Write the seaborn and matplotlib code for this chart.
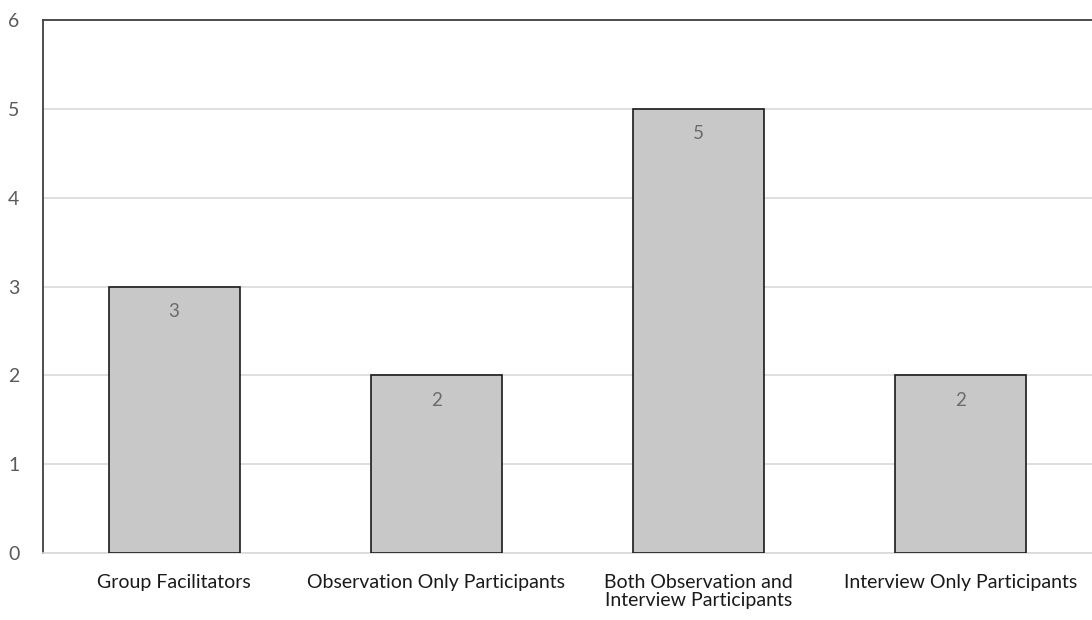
import seaborn as sns
import matplotlib.pyplot as plt
import pandas as pd

# datos
categorias = ["Group Facilitators", "Observation Only Participants",
              "Both Observation and\nInterview Participants", "Interview Only Participants"]
valores = [3, 2, 5, 2]

df = pd.DataFrame({"cat": categorias, "val": valores})

sns.set_style("white")
plt.rcParams["font.family"] = ["Lato", "DejaVu Sans"]

fig = plt.figure(figsize=(10.92, 6.2), dpi=100)
ax = fig.add_axes([43 / 1092, 1 - 553 / 620, 1 - 43 / 1092, (553 - 20) / 620])

sns.barplot(data=df, x="cat", y="val", color="#c8c8c8", saturation=1,
            edgecolor="#1a1a1a", linewidth=1.2, width=0.5, ax=ax, zorder=3)

ax.set_xlim(-0.5, 3.5)
ax.set_ylim(0, 6)
ax.set_yticks(range(0, 7))
ax.yaxis.grid(True, color="#d9d9d9", linewidth=1.2, zorder=0)
ax.set_axisbelow(True)

# etiquetas dentro de la barra
for i, v in enumerate(valores):
    ax.text(i, v - 0.28, str(v), ha="center", va="center", fontsize=13.5, color="#6b6b6b", zorder=4)

ax.set_xlabel("")
ax.set_ylabel("")
ax.tick_params(axis="y", length=0, pad=17, labelsize=14, labelcolor="#5a5a5a")
ax.tick_params(axis="x", length=0, pad=15, labelsize=14, labelcolor="#1a1a1a")
for lab in ax.get_xticklabels():
    lab.set_linespacing(1.1)

ax.spines["top"].set_color("#404040")
ax.spines["top"].set_linewidth(1.3)
ax.spines["left"].set_color("#404040")
ax.spines["left"].set_linewidth(1.3)
ax.spines["bottom"].set_color("#d9d9d9")
ax.spines["bottom"].set_linewidth(1.2)
ax.spines["right"].set_visible(False)

plt.savefig("out.png", dpi=100)
